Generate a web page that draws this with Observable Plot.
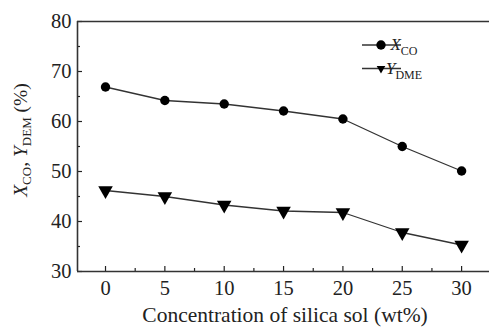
<!DOCTYPE html>
<html><head><meta charset="utf-8">
<script src="https://cdn.jsdelivr.net/npm/d3@7"></script>
<script src="https://cdn.jsdelivr.net/npm/@observablehq/plot@0.6"></script>
<style>body{margin:0;background:#fff} svg text{font-family:'Liberation Serif','Times New Roman',serif !important}</style>
</head><body><div id="chart"></div>
<script>
const concentration = [0, 5, 10, 15, 20, 25, 30];
const xCO = [66.9, 64.2, 63.5, 62.1, 60.5, 55.0, 50.1];
const yDME = [46.2, 45.0, 43.3, 42.1, 41.8, 37.8, 35.3];
const xTicks = [0, 5, 10, 15, 20, 25, 30];
const xMinorTicks = [2.5, 7.5, 12.5, 17.5, 22.5, 27.5];
const yTicks = [30, 40, 50, 60, 70, 80];
const yMinorTicks = [35, 45, 55, 65, 75];
const xLabel = "Concentration of silica sol (wt%)";

const rowsX = concentration.map((c, i) => ({c, v: xCO[i]}));
const rowsY = concentration.map((c, i) => ({c, v: yDME[i]}));

const ink = "#222";
const font = "'Liberation Serif', 'Times New Roman', serif";
const xDomain = [-2.36, 32.35];

const svg = Plot.plot({
  width: 489,
  height: 327,
  marginLeft: 77,
  marginRight: 0,
  marginTop: 21,
  marginBottom: 56,
  style: {fontFamily: font, fontSize: "20.5px", color: ink, background: "#fff"},
  x: {domain: xDomain},
  y: {domain: [30, 80]},
  marks: [
    Plot.axisX(xTicks, {tickSize: 0, tickPadding: 9, label: null, fontSize: 20.5, fontFamily: font}),
    Plot.axisX(xTicks, {tickSize: -5, text: null, label: null, stroke: ink, strokeWidth: 1.2}),
    Plot.axisX(xMinorTicks, {tickSize: -3, text: null, label: null, stroke: ink, strokeWidth: 1.2}),
    Plot.axisY(yTicks, {tickSize: 0, tickPadding: 6, label: null, fontSize: 20.5, fontFamily: font}),
    Plot.axisY(yTicks, {tickSize: -5, text: null, label: null, stroke: ink, strokeWidth: 1.2}),
    Plot.axisY(yMinorTicks, {tickSize: -3, text: null, label: null, stroke: ink, strokeWidth: 1.2}),
    Plot.ruleX([xDomain[0]], {stroke: "#333", strokeWidth: 1.6}),
    Plot.ruleY([30, 80], {stroke: "#333", strokeWidth: 1.6}),
    Plot.line(rowsX, {x: "c", y: "v", stroke: "#333", strokeWidth: 1.3}),
    Plot.line(rowsY, {x: "c", y: "v", stroke: "#333", strokeWidth: 1.3}),
    Plot.dot(rowsX, {x: "c", y: "v", r: 4.7, fill: "#000", stroke: "none"}),
    Plot.dot(rowsY, {x: "c", y: "v", symbol: "triangle", r: 5.4, rotate: 180, fill: "#000", stroke: "none"})
  ]
});

const s = d3.select(svg);

// x-axis title
s.append("text")
  .attr("x", 285).attr("y", 322)
  .attr("text-anchor", "middle")
  .attr("font-family", font)
  .attr("font-size", 21.5)
  .attr("fill", ink)
  .text(xLabel);

// y-axis label
const yl = s.append("text")
  .attr("transform", "translate(27,140) rotate(-90)")
  .attr("text-anchor", "middle")
  .attr("font-family", font)
  .attr("font-size", 19.5)
  .attr("fill", ink);
yl.append("tspan").attr("font-style", "italic").text("X");
yl.append("tspan").attr("font-size", 13).attr("dy", 4).text("CO");
yl.append("tspan").attr("dy", -4).text(", ");
yl.append("tspan").attr("font-style", "italic").text("Y");
yl.append("tspan").attr("font-size", 13).attr("dy", 4).text("DEM");
yl.append("tspan").attr("dy", -4).text(" (%)");

// legend
const legend = [
  {name: "X", sub: "CO", y: 45, sym: d3.symbolCircle, size: Math.PI * 4.7 * 4.7, rot: 0},
  {name: "Y", sub: "DME", y: 68.5, sym: d3.symbolTriangle, size: 5.4 * 5.4 * 1.1, rot: 180}
];
const lg = s.append("g");
legend.forEach(d => {
  lg.append("line").attr("x1", 362).attr("x2", 401).attr("y1", d.y).attr("y2", d.y)
    .attr("stroke", "#333").attr("stroke-width", 1.3);
  lg.append("path").attr("d", d3.symbol(d.sym, d.size)())
    .attr("transform", `translate(381,${d.y}) rotate(${d.rot})`).attr("fill", "#000");
  const t = lg.append("text").attr("x", 404).attr("y", d.y + 5)
    .attr("font-family", font).attr("font-size", 17).attr("fill", ink);
  t.append("tspan").attr("font-style", "italic").text(d.name);
  t.append("tspan").attr("font-size", 12).attr("dy", 5).text(d.sub);
});

document.getElementById("chart").appendChild(svg);
</script>
</body></html>
